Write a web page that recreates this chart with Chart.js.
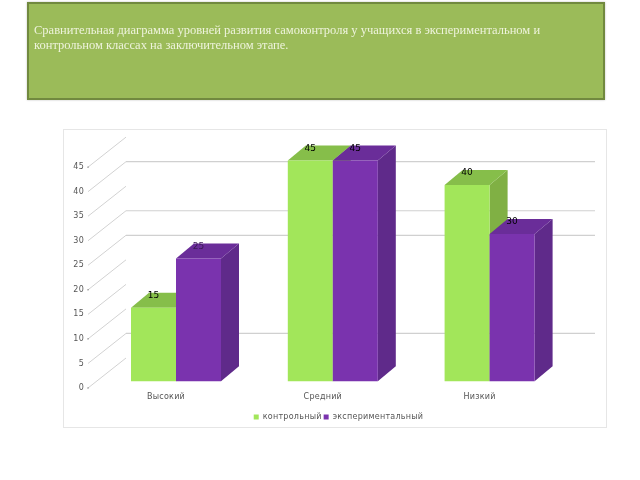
<!DOCTYPE html>
<html><head><meta charset="utf-8">
<script src="https://cdn.jsdelivr.net/npm/chart.js@4"></script>
<style>
html,body{margin:0;padding:0;background:#fff;width:640px;height:480px;overflow:hidden}
#head{position:absolute;left:27px;top:2px;width:578px;height:98px;box-sizing:border-box;background:#9bbb59;border:2px solid #71893f;box-shadow:0 0 2px rgba(0,0,0,.25);color:#eef3dc;font:12.5px/15px "Liberation Serif",serif;padding:19px 0 0 5px;white-space:nowrap;filter:blur(.3px)}
#box{position:absolute;left:63px;top:129px;width:544px;height:299px;outline:1px solid #e6e6e6;outline-offset:-1px}
canvas{display:block;filter:blur(.35px)}
</style></head><body>
<div id="head"></div>
<div id="box"><canvas id="c" width="544" height="299"></canvas></div>
<script>
const titleLines = ["Сравнительная диаграмма уровней развития самоконтроля у учащихся в экспериментальном и","контрольном классах на заключительном этапе."];
const categories = ["Высокий","Средний","Низкий"];
const seriesControl = [15,45,40];
const seriesExperiment = [25,45,30];
const nameControl = "контрольный";
const nameExperiment = "экспериментальный";
const wallGridValues = [40,30,25,5];
const axisDiagonalValues = [0,5,10,15,20,25,30,35,40,45];
const tickDotValues = [0,10,20,45];

document.getElementById('head').innerHTML = titleLines.join('<br>');

const colControl = {front:'#a2e65a',top:'#86be4a',side:'#80b044'};
const colExp = {front:'#7a33ae',top:'#6a2d99',side:'#5f2a8a'};
const DX=18, DY=15, WALLDY=30, DIAG_L=9.6, DIAG_R=28.4;

function face(ctx,pts,fill){ctx.beginPath();pts.forEach((p,i)=>i?ctx.lineTo(p[0],p[1]):ctx.moveTo(p[0],p[1]));ctx.closePath();ctx.fillStyle=fill;ctx.fill();}
function noPad(s){s.paddingTop=0;s.paddingBottom=0;s.paddingLeft=0;s.paddingRight=0;}

const plugin3d = {
  id:'plugin3d',
  beforeDraw(chart){ chart.ctx.letterSpacing='0.25px'; },
  beforeDatasetsDraw(chart){
    const {ctx,chartArea:a,scales:{y}}=chart;
    ctx.save();
    ctx.lineWidth=1;
    ctx.strokeStyle='#d2d2d2';
    axisDiagonalValues.forEach(v=>{
      const p=y.getPixelForValue(v);
      ctx.beginPath();ctx.moveTo(a.left-DIAG_L,p);ctx.lineTo(a.left+DIAG_R,p-WALLDY);ctx.stroke();
    });
    ctx.strokeStyle='#d0d0d0';
    ctx.lineWidth=1.2;
    wallGridValues.forEach(v=>{
      const p=y.getPixelForValue(v)-WALLDY;
      ctx.beginPath();ctx.moveTo(a.left+DIAG_R,p);ctx.lineTo(a.right+27,p);ctx.stroke();
    });
    ctx.fillStyle='#444';
    tickDotValues.forEach(v=>{
      const p=y.getPixelForValue(v);
      ctx.fillRect(a.left-DIAG_L-0.5,p-0.5,1,1);
    });
    ctx.restore();
  },
  beforeDatasetDraw(){ return false; },
  afterDatasetsDraw(chart){
    const {ctx}=chart;
    chart.data.datasets.forEach((ds,i)=>{
      const c=i===0?colControl:colExp, meta=chart.getDatasetMeta(i);
      meta.data.forEach(b=>{
        const l=b.x-b.width/2,r=b.x+b.width/2,t=b.y,bt=b.base;
        face(ctx,[[r,t],[r+DX,t-DY],[r+DX,bt-DY],[r,bt]],c.side);
        face(ctx,[[l,t],[l+DX,t-DY],[r+DX,t-DY],[r,t]],c.top);
      });
      meta.controller.draw();
    });
    ctx.save();
    ctx.font='9px "DejaVu Sans"';ctx.textAlign='center';ctx.textBaseline='middle';
    ctx.letterSpacing='0px';
    chart.data.datasets.forEach((ds,i)=>{
      chart.getDatasetMeta(i).data.forEach((b,j)=>{
        ctx.fillStyle=(i===1&&j===0)?'#3a1a55':'#000';
        ctx.fillText(ds.data[j],b.x,b.y-12);
      });
    });
    ctx.restore();
  }
};

new Chart(document.getElementById('c'),{
  type:'bar',
  data:{labels:categories,datasets:[
    {label:nameControl,data:seriesControl,backgroundColor:colControl.front,yAxisID:'yBars',barPercentage:1,categoryPercentage:0.574,borderWidth:0},
    {label:nameExperiment,data:seriesExperiment,backgroundColor:colExp.front,yAxisID:'yBars',barPercentage:1,categoryPercentage:0.574,borderWidth:0}
  ]},
  plugins:[plugin3d],
  options:{
    responsive:false,animation:false,devicePixelRatio:1,
    layout:{padding:{top:13.6,right:0,bottom:-3,left:0}},
    plugins:{
      title:{display:false},tooltip:{enabled:false},
      legend:{position:'bottom',align:'center',onClick:null,
        labels:{boxWidth:5,boxHeight:5,padding:2,color:'#555',font:{family:'"DejaVu Sans"',size:8}}}
    },
    scales:{
      x:{grid:{display:false,drawTicks:false},border:{display:false},
        afterFit(s){s.height=23;noPad(s);},
        ticks:{padding:4,color:'#555',labelOffset:-10,maxRotation:0,font:{family:'"DejaVu Sans"',size:8}}},
      y:{min:0,max:50,position:'left',grid:{display:false,drawTicks:false},border:{display:false},
        afterFit(s){s.width=34.6;noPad(s);},
        ticks:{stepSize:5,padding:13.6,color:'#555',font:{family:'"DejaVu Sans"',size:8},
          callback:v=>v===50?'':v}},
      yBars:{position:'right',min:-1.37,max:48.63,grid:{display:false,drawTicks:false},border:{display:false},
        afterFit(s){s.width=39;noPad(s);},
        ticks:{display:false}}
    }
  }
});
</script>
</body></html>
